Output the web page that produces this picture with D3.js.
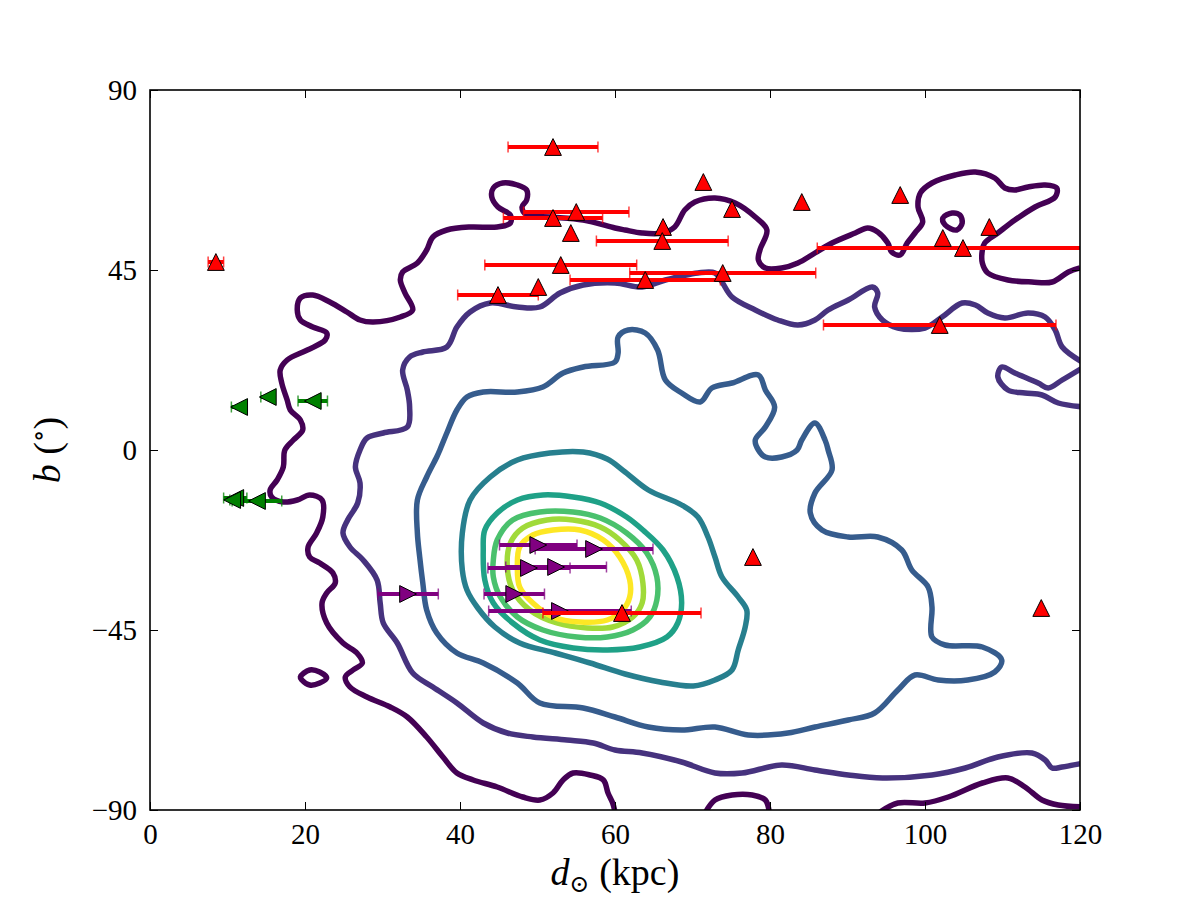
<!DOCTYPE html>
<html>
<head>
<meta charset="utf-8">
<script src="https://cdn.jsdelivr.net/npm/d3@7"></script>
<style>
  body { margin: 0; background: #fff; }
  svg text { font-family: "Liberation Serif", "DejaVu Serif", serif; fill: #000; }
</style>
</head>
<body>
<div id="chart"></div>
<script>
const xTicks = [0, 20, 40, 60, 80, 100, 120];
const yTicks = [-90, -45, 0, 45, 90];

// Contour lines, points are [d (kpc), b (deg)], outermost level first
const level1Open = [
  [[120,45.5],[118.5,44.5],[116.4,42],[113.8,42],[110.7,42.5],[108.1,44.25],[107.4,46.75],[107.4,50],[107.7,51.75],[109.4,54.25],[111.6,57.5],[114.2,60.75],[116.8,63.25],[117.0,65.5],[115.5,66.25],[113.3,65.75],[111.6,65],[110.3,65.5],[109.0,68],[106.5,69.5],[103.9,68.75],[100.9,66.75],[99.4,64.25],[99.1,60.75],[99.7,57],[98.7,54.25],[97.7,51.75],[96.8,48.75],[95.7,49.5],[95.2,51.75],[93.9,54.5],[92.6,55.5],[91.0,54.25],[88.0,51.75],[85.8,49.25],[83.6,46.75],[81.5,45.5],[79.4,45.5],[78.5,47.5],[78.7,50],[79.6,55],[78.1,58.25],[75.5,61.75],[72.9,63],[70.3,62],[69.0,60],[67.7,55.75],[66.1,54.25],[63.5,54.25],[61.3,55],[60.0,55.5],[55.9,57.5],[51.6,58.25],[48.6,58.75],[48.0,60.75],[48.6,62.5],[48.6,65],[47.4,66.25],[45.5,66.75],[44.3,65.5],[44.1,63.25],[44.9,60.75],[46.5,58.75],[46.5,56.75],[44.8,55.75],[41.3,55.75],[38.3,55],[36.5,53.25],[35.7,50],[34.5,46.75],[32.6,44.5],[32.3,42.5],[32.9,39.25],[33.9,35],[32.3,33.25],[28.8,32],[27.1,32.5],[25.4,34.5],[23.2,37],[21.0,38.75],[19.4,38],[19.0,35],[19.4,32.5],[21.0,30.75],[22.8,29.25],[22.6,27.5],[20.3,25],[17.7,22.5],[16.8,20],[17.0,16.75],[17.7,12.5],[18.1,10],[19.4,7.5],[19.7,5],[18.5,2.5],[17.4,0],[17.2,-4.25],[16.4,-7.5],[15.5,-10],[15.7,-11.75],[17.2,-13],[19.0,-12.5],[20.6,-11.25],[22.2,-12.5],[22.3,-16.75],[21.5,-20.75],[20.4,-24.25],[20.6,-26.75],[21.9,-28.25],[23.6,-30.75],[23.9,-33.25],[22.8,-35.75],[22.2,-38.25],[22.8,-43.25],[24.9,-48.25],[26.7,-50.75],[27.4,-53.25],[26.2,-55],[25.2,-56.75],[25.8,-59.25],[28.0,-61.75],[31.0,-64.25],[33.2,-66.75],[35.7,-71.75],[37.8,-76.75],[39.6,-80.75],[41.7,-82.5],[44.8,-84.25],[48.1,-86.75],[50.3,-87.5],[52.0,-85.75],[53.3,-82.5],[54.6,-80.75],[56.8,-81.25],[58.5,-82.5],[59.1,-85.75],[59.7,-88.25],[60.0,-90.5]],
  [[71.7,-90.5],[72.9,-87.5],[75.1,-86.25],[77.7,-86.25],[79.4,-87.5],[79.9,-90.5]],
  [[94.2,-90.5],[96.5,-88.25],[100,-88.25],[103.0,-86.75],[107.4,-83.25],[110.7,-82],[112.9,-84.25],[115.1,-87.5],[117.2,-88.75],[120.5,-89.25]]
];
const level1Loops = [
  [[19.4,-56.75],[20.6,-55],[21.9,-55.5],[22.8,-57],[21.9,-58.25],[20.6,-58.75],[19.6,-57.5]],
  [[102.3,58],[103.5,59.25],[104.5,58.75],[104.8,56.75],[104.1,55],[102.6,56.25]]
];

const level2Open = [
  [[120.5,21.75],[117.7,25.75],[116.8,30],[115.5,33.25],[113.3,34.25],[110.3,33],[108.1,34.25],[106.5,36.25],[104.8,36.75],[102.2,33.25],[100,30.5],[96.5,30.5],[94.5,32.5],[93.5,35.75],[93.9,39.25],[93.2,40.75],[90.1,37.5],[87.5,35],[85.8,32.5],[83.6,31.25],[81.0,32.5],[78.1,35],[75.1,38.25],[73.8,42],[72.9,44.25],[70.7,44.25],[66.5,42.5],[63.5,40.75],[60,41.75],[55.9,41.25],[52.9,39.25],[50.3,35.75],[47.4,35.75],[43.9,36.75],[41.3,34.5],[39.6,30.75],[38.3,25.75],[35.2,24.5],[33.5,23.25],[32.6,20],[33.2,15],[33.5,10.75],[33.2,5.75],[30.1,4.25],[28.0,3],[27.1,0],[26.5,-4.25],[27.1,-8.25],[26.8,-13.25],[25.5,-17.5],[24.9,-20.75],[25.8,-24.25],[27.5,-27.5],[29.3,-32.5],[29.7,-38.25],[30.1,-43.25],[31.9,-48.25],[33.9,-55.75],[36.5,-59.25],[39.6,-63.25],[43.0,-68.25],[46.1,-70.75],[49.4,-71.75],[53.8,-72.5],[57.2,-73.25],[60,-75],[63.5,-75.75],[68.6,-78],[72.9,-80.75],[76.4,-80.75],[81.5,-78.75],[85.8,-80],[90.1,-81.25],[94.5,-82],[100.9,-81.25],[105.2,-79.5],[109.4,-76.75],[113.8,-75.75],[115.5,-77.5],[116.4,-79.5],[117.7,-79.25],[120.5,-78.25]],
  [[120.5,20.75],[117.7,17.5],[115.9,15.5],[114.6,16.75],[111.6,19.25],[109.9,20.75],[109.4,18.25],[110.7,15],[112.9,14.25],[115.1,13.75],[117.2,11.75],[120.5,10.75]]
];

const level3Loops = [
  [[60,-66.75],[55.9,-64.5],[50.3,-63.25],[47.4,-58.25],[43.0,-53.25],[39.6,-50.75],[37.0,-45.75],[35.7,-40],[35.2,-33.25],[34.8,-26.75],[34.5,-20.75],[34.5,-12.5],[35.7,-6.75],[37.0,-1.75],[37.4,0],[38.3,4.25],[39.6,10],[40.9,13.25],[43.0,14.5],[47.4,14.5],[50.7,15.75],[53.3,19.25],[55.9,20.75],[60,22],[60.4,24.25],[60.4,28.25],[61.7,30],[63.9,29.25],[65.5,25],[66.5,17.5],[68.6,14.25],[71.0,12],[72.5,15.5],[75.1,16.75],[78.5,18.75],[79.4,15],[80.6,10.75],[79.4,5.75],[78.1,2.5],[78.5,0],[79.4,-1.75],[81.5,-1.75],[83.5,0],[84.1,2.5],[85.8,6.75],[87.1,2.5],[87.5,0],[88.0,-5],[85.8,-10.75],[85.2,-15.75],[86.7,-20],[90.1,-21.75],[93.9,-21.75],[97.0,-25],[98.3,-30],[100.4,-34.25],[100.9,-39.25],[100.9,-46.75],[102.6,-48.75],[107.4,-49.25],[109.9,-52.5],[109.0,-55.5],[105.5,-57.5],[101.7,-57.5],[98.7,-56.25],[96.5,-60],[93.5,-65.75],[90.1,-67.5],[85.8,-69.25],[82.3,-70.75],[77.2,-71.25],[72.9,-69.25],[68.6,-70],[64.3,-69.25]]
];

const level4Loops = [
  [[55.9,-0.5],[59.0,-2.25],[61.3,-5.5],[64.3,-10],[68.6,-13.75],[70.7,-16.75],[72.0,-21.75],[72.9,-26.75],[73.8,-31.75],[75.9,-36.75],[77.0,-40],[76.8,-44.25],[75.9,-50],[75.1,-55],[72.9,-57.5],[70.1,-59],[65.8,-58],[61.3,-56],[56.8,-53.25],[52.3,-50.75],[47.7,-48.25],[44.5,-44.25],[42.3,-39.5],[40.9,-35],[40.3,-30],[40.3,-20.75],[41.3,-12.5],[43.9,-6.75],[47.4,-2.5],[51.6,-0.75]]
];

const level5Loops = [
  [[43.0,-25],[43.2,-20],[44.8,-15.75],[47.4,-12.5],[50.7,-11.25],[54.6,-11.75],[58.1,-13.25],[61.5,-16.75],[63.6,-20],[66.2,-25],[68.0,-31.75],[68.6,-38.25],[68.1,-43.25],[66.7,-46.75],[63.2,-49.25],[59.0,-50],[54.6,-49.5],[50.3,-47.5],[46.8,-43.25],[44.3,-38.25],[43.2,-32.5]]
];

const level6Loops = [
  [[44.3,-27.5],[44.8,-22.5],[46.8,-17.5],[50.3,-15.5],[54.6,-15.5],[58.1,-17],[61.5,-20.75],[64.1,-25.75],[65.4,-31.75],[65.4,-37.5],[64.5,-41.75],[62.3,-45],[59.0,-46.75],[55.1,-46.75],[50.7,-45],[47.4,-41.75],[45.2,-36.75],[44.3,-31.75]]
];

const level7Loops = [
  [[46.1,-29.25],[46.5,-23.25],[48.1,-19.5],[51.2,-17.5],[54.6,-17.5],[58.1,-19.25],[60.6,-22.5],[62.8,-27.5],[63.6,-33.25],[63.5,-38.25],[62.3,-41.75],[59.7,-44.25],[56.4,-44.5],[52.5,-43.25],[49.0,-40],[46.8,-35]]
];

const level8Loops = [
  [[47.4,-29.25],[47.7,-24.25],[49.4,-21.25],[52.0,-20],[55.5,-20],[58.5,-22.5],[60.6,-26.75],[61.9,-32.5],[61.9,-36.75],[61.0,-40],[59.0,-42.5],[55.5,-43],[52.0,-41.75],[49.4,-38.25],[47.7,-34.25]]
];

// Point samples: distance (kpc), latitude (deg), distance error (kpc)
const redDist = [52.0, 8.5, 71.4, 75.1, 52.0, 55.0, 54.3, 66.2, 66.1, 53.0, 50.1, 44.9, 63.9, 73.9, 84.1, 96.8, 102.3, 104.9, 108.3, 101.9, 77.8, 115.0, 60.9];
const redLat = [75.75, 47.0, 67.0, 60.25, 58.0, 59.5, 54.25, 55.75, 52.25, 46.25, 40.75, 38.75, 42.5, 44.25, 62.0, 63.75, 53.0, 50.5, 55.75, 31.25, -26.75, -39.5, -40.75];
const redErr = [5.8, 1.0, 0, 0, 6.4, 6.8, 0, 0, 8.5, 9.8, 0, 5.2, 9.7, 12.0, 0, 0, 0, 18.8, 0, 15.0, 0, 0, 10.2];

const purpleDist = [50.1, 57.3, 48.9, 52.4, 47.0, 52.9, 33.3];
const purpleLat = [-23.75, -24.75, -29.5, -29.25, -36.0, -40.25, -36.0];
const purpleErr = [5.0, 7.6, 5.3, 6.5, 3.9, 9.2, 3.9];

const greenDist = [11.0, 10.6, 13.8, 11.5, 15.2, 21.0];
const greenLat = [-12.0, -12.5, -12.75, 10.75, 13.25, 12.25];
const greenErr = [1.5, 0.3, 3.2, 1.0, 0.9, 1.9];

class ContourChart {
  /**
   * Class constructor with basic chart configuration
   */
  constructor(_config) {
    this.config = {
      parentElement: _config.parentElement,
      containerWidth: _config.containerWidth || 1200,
      containerHeight: _config.containerHeight || 900,
      margin: _config.margin || { top: 90, right: 120, bottom: 90, left: 150 },
    };
    this.initVis();
  }

  initVis() {
    let vis = this;

    vis.width = vis.config.containerWidth - vis.config.margin.left - vis.config.margin.right;
    vis.height = vis.config.containerHeight - vis.config.margin.top - vis.config.margin.bottom;

    vis.xScale = d3.scaleLinear().domain([0, 120]).range([0, vis.width]);
    vis.yScale = d3.scaleLinear().domain([-90, 90]).range([vis.height, 0]);

    vis.svg = d3
      .select(vis.config.parentElement)
      .append("svg")
      .attr("width", vis.config.containerWidth)
      .attr("height", vis.config.containerHeight);

    vis.chart = vis.svg
      .append("g")
      .attr("transform", `translate(${vis.config.margin.left},${vis.config.margin.top})`);

    vis.svg
      .append("defs")
      .append("clipPath")
      .attr("id", "plot-clip")
      .append("rect")
      .attr("width", vis.width)
      .attr("height", vis.height);

    vis.plot = vis.chart.append("g").attr("clip-path", "url(#plot-clip)");

    // viridis colours, one per contour level
    vis.levels = [
      { open: level1Open, loops: level1Loops, color: "#440154" },
      { open: level2Open, loops: [], color: "#46327e" },
      { open: [], loops: level3Loops, color: "#365c8d" },
      { open: [], loops: level4Loops, color: "#277f8e" },
      { open: [], loops: level5Loops, color: "#1fa187" },
      { open: [], loops: level6Loops, color: "#4ac16d" },
      { open: [], loops: level7Loops, color: "#a0da39" },
      { open: [], loops: level8Loops, color: "#fde725" },
    ];

    vis.groups = [
      { dist: greenDist, lat: greenLat, err: greenErr, color: "#008000", dir: "left" },
      { dist: purpleDist, lat: purpleLat, err: purpleErr, color: "#800080", dir: "right" },
      { dist: redDist, lat: redLat, err: redErr, color: "#ff0000", dir: "up" },
    ];

    vis.renderVis();
  }

  renderVis() {
    let vis = this;

    const openLine = d3
      .line()
      .x((d) => vis.xScale(d[0]))
      .y((d) => vis.yScale(d[1]))
      .curve(d3.curveCatmullRom.alpha(0.5));
    const loopLine = d3
      .line()
      .x((d) => vis.xScale(d[0]))
      .y((d) => vis.yScale(d[1]))
      .curve(d3.curveCatmullRomClosed.alpha(0.5));

    vis.levels.forEach((lvl) => {
      const g = vis.plot.append("g");
      g.selectAll(".open")
        .data(lvl.open)
        .join("path")
        .attr("d", openLine)
        .attr("fill", "none")
        .attr("stroke", lvl.color)
        .attr("stroke-width", 5.5)
        .attr("stroke-linejoin", "round");
      g.selectAll(".loop")
        .data(lvl.loops)
        .join("path")
        .attr("d", loopLine)
        .attr("fill", "none")
        .attr("stroke", lvl.color)
        .attr("stroke-width", 5.5)
        .attr("stroke-linejoin", "round");
    });

    const r = 8.4;
    const marker = (cx, cy, dir) => {
      if (dir === "up") return `M${cx},${cy - r}L${cx - r},${cy + r}L${cx + r},${cy + r}Z`;
      if (dir === "left") return `M${cx - r},${cy}L${cx + r},${cy - r}L${cx + r},${cy + r}Z`;
      return `M${cx + r},${cy}L${cx - r},${cy - r}L${cx - r},${cy + r}Z`;
    };

    vis.groups.forEach((grp) => {
      const pts = grp.dist.map((d, i) => ({ d: d, b: grp.lat[i], e: grp.err[i] }));
      const withErr = pts.filter((p) => p.e > 0);
      const g = vis.plot.append("g");

      g.selectAll(".bar")
        .data(withErr)
        .join("line")
        .attr("x1", (p) => vis.xScale(p.d - p.e))
        .attr("x2", (p) => vis.xScale(p.d + p.e))
        .attr("y1", (p) => vis.yScale(p.b))
        .attr("y2", (p) => vis.yScale(p.b))
        .attr("stroke", grp.color)
        .attr("stroke-width", 4);

      const caps = [];
      withErr.forEach((p) => {
        caps.push({ x: p.d - p.e, b: p.b });
        caps.push({ x: p.d + p.e, b: p.b });
      });
      g.selectAll(".cap")
        .data(caps)
        .join("line")
        .attr("x1", (c) => vis.xScale(c.x))
        .attr("x2", (c) => vis.xScale(c.x))
        .attr("y1", (c) => vis.yScale(c.b) - 5.5)
        .attr("y2", (c) => vis.yScale(c.b) + 5.5)
        .attr("stroke", grp.color)
        .attr("stroke-opacity", 0.75)
        .attr("stroke-width", 1.5);

      g.selectAll(".mark")
        .data(pts)
        .join("path")
        .attr("d", (p) => marker(vis.xScale(p.d), vis.yScale(p.b), grp.dir))
        .attr("fill", grp.color)
        .attr("stroke", "#000")
        .attr("stroke-width", 1)
        .attr("stroke-linejoin", "miter");
    });

    // Axes with inward ticks on all four sides
    const fontSize = 29;
    const xAxis = d3.axisBottom(vis.xScale).tickValues(xTicks).tickSizeInner(-8).tickSizeOuter(0).tickPadding(13);
    const yAxis = d3.axisLeft(vis.yScale).tickValues(yTicks).tickSizeInner(-8).tickSizeOuter(0).tickPadding(13);
    const xTop = d3.axisTop(vis.xScale).tickValues(xTicks).tickSizeInner(-8).tickSizeOuter(0).tickFormat("");
    const yRight = d3.axisRight(vis.yScale).tickValues(yTicks).tickSizeInner(-8).tickSizeOuter(0).tickFormat("");

    const axes = [
      vis.chart.append("g").attr("transform", `translate(0,${vis.height})`).call(xAxis),
      vis.chart.append("g").call(yAxis),
      vis.chart.append("g").call(xTop),
      vis.chart.append("g").attr("transform", `translate(${vis.width},0)`).call(yRight),
    ];
    axes.forEach((a) => {
      a.select(".domain").remove();
      a.selectAll(".tick line").attr("stroke", "#000").attr("stroke-width", 1);
      a.selectAll(".tick text")
        .attr("font-family", '"Liberation Serif", "DejaVu Serif", serif')
        .attr("font-size", fontSize)
        .attr("fill", "#000");
    });

    vis.chart
      .append("rect")
      .attr("width", vis.width)
      .attr("height", vis.height)
      .attr("fill", "none")
      .attr("stroke", "#000")
      .attr("stroke-width", 1.6);

    // Axis titles
    const xLabel = vis.svg
      .append("text")
      .attr("x", vis.config.margin.left + vis.width / 2)
      .attr("y", 885)
      .attr("text-anchor", "middle")
      .attr("font-size", 38);
    xLabel.append("tspan").attr("font-style", "italic").text("d");
    xLabel.append("tspan").attr("font-size", 24).attr("dy", 7).text("⊙");
    xLabel.append("tspan").attr("dy", -7).text(" (kpc)");

    const yLabel = vis.svg
      .append("text")
      .attr("transform", `translate(60,${vis.config.margin.top + vis.height / 2}) rotate(-90)`)
      .attr("text-anchor", "middle")
      .attr("font-size", 38);
    yLabel.append("tspan").attr("font-style", "italic").text("b");
    yLabel.append("tspan").text(" (");
    yLabel.append("tspan").attr("font-size", 26).attr("dy", -13).text("∘");
    yLabel.append("tspan").attr("dy", 13).text(")");
  }
}

new ContourChart({ parentElement: "#chart" });
</script>
</body>
</html>
